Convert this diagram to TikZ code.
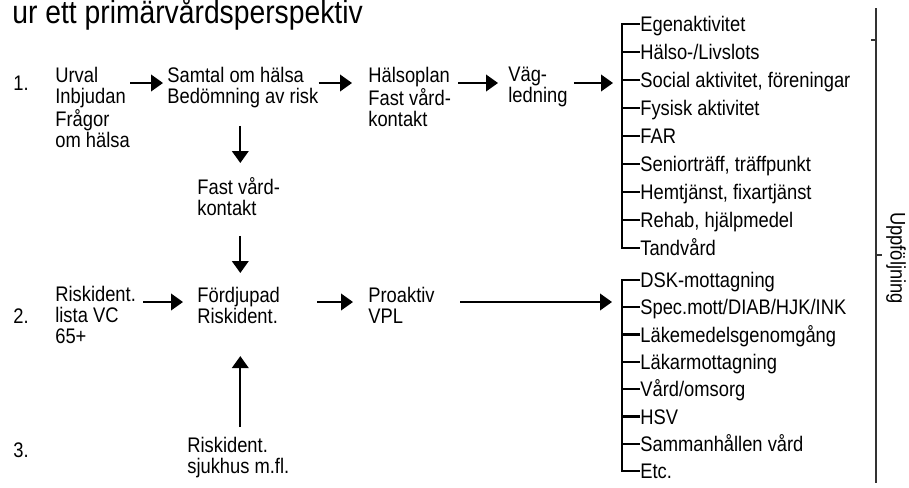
\documentclass[tikz,border=0pt]{standalone}
\usepackage{fontspec}
\setmainfont{Liberation Sans}[FakeStretch=0.87]
\usetikzlibrary{arrows.meta,positioning}
\tikzstyle{txt}=[align=left,inner sep=0pt,anchor=north west,font=\fontsize{12}{11.9}\selectfont]
\tikzstyle{num}=[inner sep=0pt,anchor=base west,font=\fontsize{12}{11.9}\selectfont]
\tikzstyle{item}=[inner sep=0pt,anchor=west,text height=8.6pt,text depth=0pt,font=\fontsize{12}{11.9}\selectfont]
\tikzstyle{arr}=[-{Triangle[length=2.4mm,width=3.3mm]},line width=1.3pt]
\tikzstyle{brace}=[line width=1.3pt]
\tikzstyle{axis}=[line width=0.8pt,draw=black!80]

\begin{document}
\begin{tikzpicture}[x=0.02cm,y=-0.02cm]
  \useasboundingbox (0,0) rectangle (909,487);
  %rubrik
  \node[anchor=base west,inner sep=0pt,font=\fontsize{18.5}{20}\selectfont] (title) at (12,23) {ur ett primärvårdsperspektiv};
  %nivåer 1-3
  \node[num] (n1) at (13,90) {1.};
  \node[num] (n2) at (13,323) {2.};
  \node[num] (n3) at (13,457) {3.};
  \coordinate (row1) at (0,83);
  \coordinate (row2) at (0,302);
  %rad 1
  \node[txt] (urval) at (55,67) {Urval\\Inbjudan\\Frågor\\om hälsa};
  \node[txt] (samtal) at (167,67) {Samtal om hälsa\\Bedömning av risk};
  \node[txt] (halsoplan) at (368,67) {Hälsoplan\\Fast vård-\\kontakt};
  \node[txt] (vag) at (508,67) {Väg-\\ledning};
  \node[txt] (fastvard) at (197,177) {Fast vård-\\kontakt};
  %rad 2 och 3
  \node[txt] (riskid) at (55,286) {Riskident.\\lista VC\\65+};
  \node[txt] (fordjupad) at (197,287) {Fördjupad\\Riskident.};
  \node[txt] (proaktiv) at (368,287) {Proaktiv\\VPL};
  \node[txt] (sjukhus) at (187,437) {Riskident.\\sjukhus m.fl.};
  %lista 1
  \node[item] (egen) at (640,24) {Egenaktivitet};
  \node[item,below=5.6mm of egen.west,anchor=west] (halso) {Hälso-/Livslots};
  \node[item,below=5.6mm of halso.west,anchor=west] (social) {Social aktivitet, föreningar};
  \node[item,below=5.6mm of social.west,anchor=west] (fysisk) {Fysisk aktivitet};
  \node[item,below=5.6mm of fysisk.west,anchor=west] (far) {FAR};
  \node[item,below=5.6mm of far.west,anchor=west] (senior) {Seniorträff, träffpunkt};
  \node[item,below=5.6mm of senior.west,anchor=west] (hemtj) {Hemtjänst, fixartjänst};
  \node[item,below=5.6mm of hemtj.west,anchor=west] (rehab) {Rehab, hjälpmedel};
  \node[item,below=5.6mm of rehab.west,anchor=west] (tand) {Tandvård};
  %lista 2
  \node[item] (dsk) at (640,280) {DSK-mottagning};
  \node[item,below=5.46mm of dsk.west,anchor=west] (spec) {Spec.mott/DIAB/HJK/INK};
  \node[item,below=5.46mm of spec.west,anchor=west] (lakemedel) {Läkemedelsgenomgång};
  \node[item,below=5.46mm of lakemedel.west,anchor=west] (lakarmott) {Läkarmottagning};
  \node[item,below=5.46mm of lakarmott.west,anchor=west] (vard) {Vård/omsorg};
  \node[item,below=5.46mm of vard.west,anchor=west] (hsv) {HSV};
  \node[item,below=5.46mm of hsv.west,anchor=west] (samman) {Sammanhållen vård};
  \node[item,below=5.46mm of samman.west,anchor=west] (etc) {Etc.};
  %klamrar
  \draw[brace] (egen.west) -- ++(-0.36cm,0) coordinate (b1) |- (tand.west);
  \foreach \n in {halso,social,fysisk,far,senior,hemtj,rehab}
    \draw[brace] (\n.west) -- (\n.west -| b1);
  \draw[brace] (dsk.west) -- ++(-0.36cm,0) coordinate (b2) |- (etc.west);
  \foreach \n in {spec,lakemedel,lakarmott,vard,hsv,samman}
    \draw[brace] (\n.west) -- (\n.west -| b2);
  %pilar rad 1
  \draw[arr,shorten >=0.8mm] (urval.east |- row1) -- (samtal.west |- row1);
  \draw[arr,shorten >=3.2mm] (samtal.east |- row1) -- (halsoplan.west |- row1);
  \draw[arr,shorten <=1.4mm,shorten >=2mm] (halsoplan.east |- row1) -- (vag.west |- row1);
  \draw[arr,shorten <=1.2mm,shorten >=1.8mm] (vag.east |- row1) -- (b1 |- row1);
  %pilar nedåt/uppåt
  \draw[arr,shorten <=3.5mm,shorten >=2.8mm] ([xshift=-0.05cm]samtal.south) -- ([xshift=-0.05cm]samtal.south |- fastvard.north);
  \draw[arr,shorten <=4mm,shorten >=2.8mm] ([xshift=-0.05cm]samtal.south |- fastvard.south) -- ([xshift=-0.05cm]samtal.south |- fordjupad.north);
  \draw[arr,shorten <=2mm,shorten >=6.4mm] ([xshift=-0.05cm]samtal.south |- sjukhus.north) -- ([xshift=-0.05cm]samtal.south |- fordjupad.south);
  %pilar rad 2
  \draw[arr,shorten <=1.4mm,shorten >=2.8mm] (riskid.east |- row2) -- (fordjupad.west |- row2);
  \draw[arr,shorten <=7.4mm,shorten >=3mm] (fordjupad.east |- row2) -- (proaktiv.west |- row2);
  \draw[arr,shorten <=5.1mm,shorten >=2mm] (proaktiv.east |- row2) -- (b2 |- row2);
  %uppföljning
  \coordinate (top) at (876,8);
  \coordinate (bot) at (876,483);
  \draw[axis] (top) -- (bot);
  \draw[axis] (876,40) -- (871,40);
  \draw[axis] (876,255) -- (882,255);
  \node[rotate=-90,inner sep=0pt,font=\fontsize{12}{11.9}\selectfont] (uppf) at (896,258) {Uppföljning};
\end{tikzpicture}
\end{document}
